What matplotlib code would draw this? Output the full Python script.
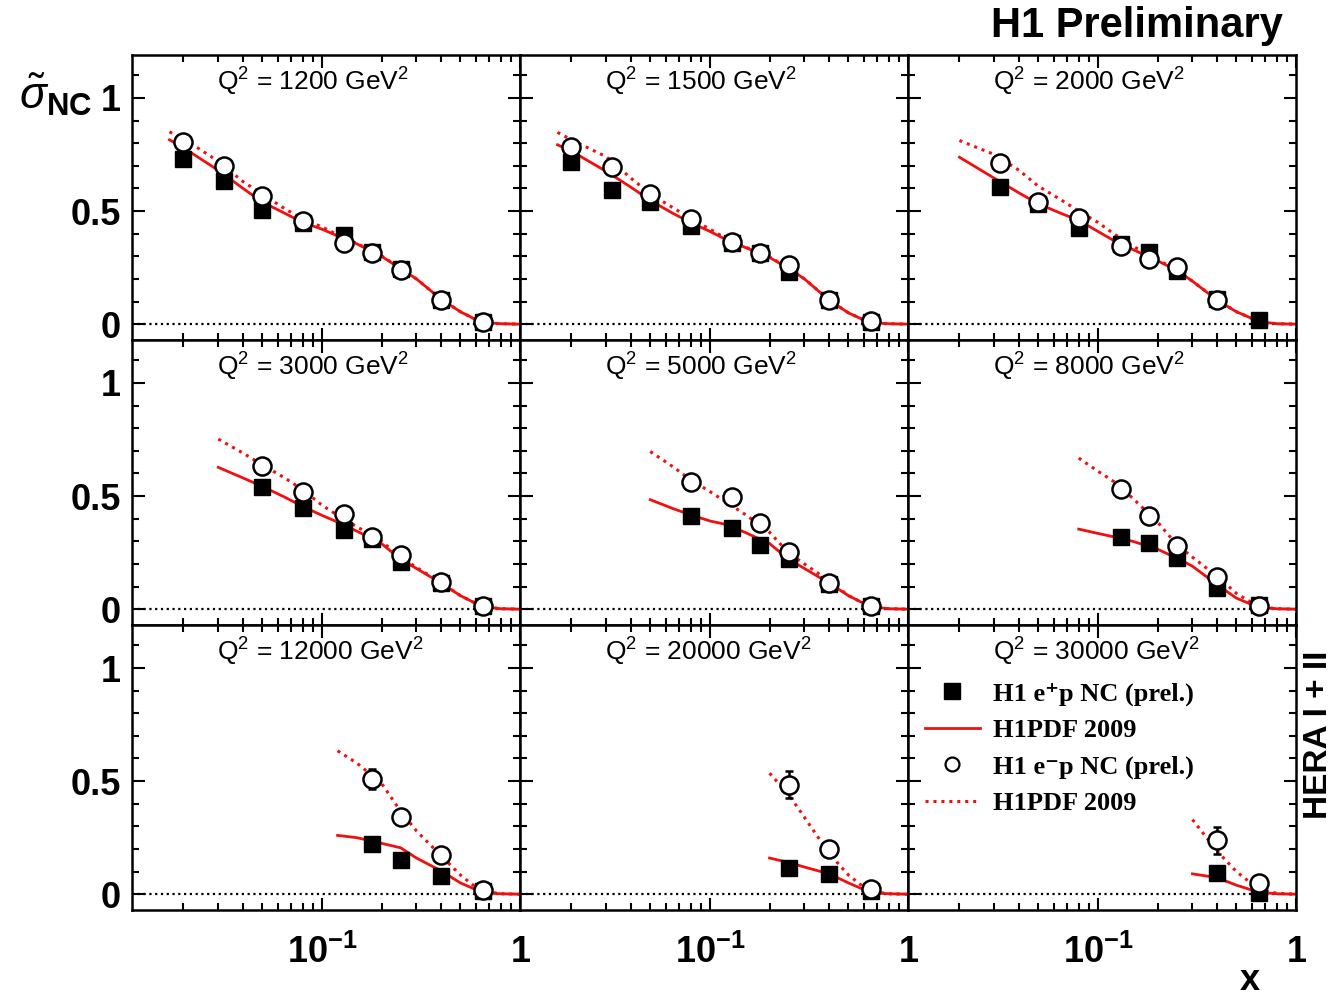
import numpy as np
from matplotlib import pyplot as plt
from matplotlib.lines import Line2D
import matplotlib.ticker as mticker

plt.rcParams['font.family'] = ['Liberation Sans', 'DejaVu Sans']
plt.rcParams['mathtext.fontset'] = 'custom'
plt.rcParams['mathtext.rm'] = 'Liberation Sans'
plt.rcParams['mathtext.it'] = 'Liberation Sans:italic'
plt.rcParams['mathtext.bf'] = 'Liberation Sans:bold'

nan = np.nan

# Q2 bins (GeV^2), one per panel
q2_values = [1200, 1500, 2000, 3000, 5000, 8000, 12000, 20000, 30000]

# measured x bins
x_data = [0.02, 0.032, 0.05, 0.08, 0.13, 0.18, 0.25, 0.40, 0.65]

# reduced NC cross section, e+p (squares)
sig_pos = [
    [0.731, 0.635, 0.506, 0.447, 0.396, 0.318, 0.242, 0.108, 0.008],
    [0.716, 0.594, 0.540, 0.432, 0.360, 0.313, 0.231, 0.106, 0.010],
    [nan, 0.606, 0.530, 0.425, 0.356, 0.319, 0.235, 0.110, 0.018],
    [nan, nan, 0.540, 0.447, 0.351, 0.310, 0.210, 0.116, 0.012],
    [nan, nan, nan, 0.410, 0.358, 0.285, 0.223, 0.110, 0.012],
    [nan, nan, nan, nan, 0.319, 0.292, 0.226, 0.093, 0.020],
    [nan, nan, nan, nan, nan, 0.220, 0.151, 0.081, 0.015],
    [nan, nan, nan, nan, nan, nan, 0.117, 0.088, 0.015],
    [nan, nan, nan, nan, nan, nan, nan, 0.092, 0.004],
]

# reduced NC cross section, e-p (open circles)
sig_neg = [
    [0.804, 0.700, 0.566, 0.454, 0.359, 0.316, 0.238, 0.106, 0.010],
    [0.785, 0.694, 0.576, 0.466, 0.363, 0.316, 0.260, 0.106, 0.015],
    [nan, 0.712, 0.540, 0.470, 0.344, 0.290, 0.253, 0.106, nan],
    [nan, nan, 0.635, 0.516, 0.422, 0.321, 0.240, 0.120, 0.016],
    [nan, nan, nan, 0.562, 0.498, 0.380, 0.255, 0.115, 0.016],
    [nan, nan, nan, nan, 0.531, 0.410, 0.281, 0.142, 0.016],
    [nan, nan, nan, nan, nan, 0.509, 0.342, 0.172, 0.019],
    [nan, nan, nan, nan, nan, nan, 0.484, 0.201, 0.022],
    [nan, nan, nan, nan, nan, nan, nan, 0.238, 0.051],
]

# e-p errors (only the large ones stick out of the markers)
err_neg = [
    [0.01] * 9,
    [0.01] * 9,
    [0.01] * 9,
    [0.01] * 9,
    [0.01] * 9,
    [0.015] * 9,
    [nan, nan, nan, nan, nan, 0.045, 0.02, 0.015, 0.01],
    [nan, nan, nan, nan, nan, nan, 0.06, 0.02, 0.01],
    [nan, nan, nan, nan, nan, nan, nan, 0.06, 0.01],
]

# H1PDF 2009 prediction, evaluated on a common x grid
x_fit = [0.017, 0.02, 0.03, 0.04, 0.05, 0.065, 0.08, 0.1, 0.12, 0.15,
         0.2, 0.25, 0.3, 0.4, 0.5, 0.6, 0.7, 0.8, 1.0]

fit_pos = [
    [0.815, 0.78, 0.68, 0.60, 0.54, 0.49, 0.45, 0.42, 0.39, 0.355,
     0.30, 0.245, 0.20, 0.11, 0.055, 0.02, 0.006, 0.002, 0.0],
    [0.793, 0.765, 0.675, 0.605, 0.547, 0.49, 0.449, 0.41, 0.375, 0.34,
     0.295, 0.246, 0.20, 0.106, 0.05, 0.018, 0.005, 0.002, 0.0],
    [nan, 0.738, 0.645, 0.58, 0.532, 0.49, 0.459, 0.41, 0.37, 0.33,
     0.28, 0.238, 0.19, 0.106, 0.055, 0.025, 0.008, 0.002, 0.0],
    [nan, nan, 0.627, 0.58, 0.543, 0.495, 0.454, 0.415, 0.385, 0.345,
     0.29, 0.22, 0.18, 0.115, 0.06, 0.025, 0.008, 0.002, 0.0],
    [nan, nan, nan, nan, 0.484, 0.445, 0.417, 0.39, 0.375, 0.34,
     0.29, 0.22, 0.18, 0.115, 0.06, 0.025, 0.008, 0.002, 0.0],
    [nan, nan, nan, nan, nan, nan, 0.354, 0.335, 0.32, 0.30,
     0.265, 0.226, 0.19, 0.108, 0.049, 0.02, 0.006, 0.002, 0.0],
    [nan, nan, nan, nan, nan, nan, nan, nan, 0.26, 0.25,
     0.225, 0.205, 0.16, 0.103, 0.05, 0.02, 0.005, 0.002, 0.0],
    [nan, nan, nan, nan, nan, nan, nan, nan, nan, nan,
     0.16, 0.14, 0.12, 0.09, 0.05, 0.02, 0.006, 0.002, 0.0],
    [nan, nan, nan, nan, nan, nan, nan, nan, nan, nan,
     nan, nan, 0.09, 0.073, 0.04, 0.018, 0.006, 0.002, 0.0],
]

fit_neg = [
    [0.85, 0.82, 0.72, 0.63, 0.575, 0.51, 0.465, 0.43, 0.395, 0.357,
     0.302, 0.247, 0.20, 0.111, 0.055, 0.02, 0.006, 0.002, 0.0],
    [0.848, 0.815, 0.74, 0.645, 0.576, 0.515, 0.467, 0.42, 0.38, 0.342,
     0.297, 0.247, 0.20, 0.107, 0.05, 0.018, 0.005, 0.002, 0.0],
    [nan, 0.812, 0.75, 0.68, 0.61, 0.55, 0.50, 0.45, 0.40, 0.345,
     0.285, 0.24, 0.19, 0.107, 0.055, 0.025, 0.008, 0.002, 0.0],
    [nan, nan, 0.752, 0.69, 0.638, 0.58, 0.528, 0.46, 0.415, 0.365,
     0.30, 0.23, 0.185, 0.117, 0.06, 0.025, 0.008, 0.002, 0.0],
    [nan, nan, nan, nan, 0.697, 0.63, 0.572, 0.52, 0.475, 0.42,
     0.34, 0.248, 0.20, 0.125, 0.06, 0.025, 0.008, 0.002, 0.0],
    [nan, nan, nan, nan, nan, nan, 0.668, 0.61, 0.565, 0.49,
     0.385, 0.285, 0.23, 0.145, 0.07, 0.028, 0.008, 0.002, 0.0],
    [nan, nan, nan, nan, nan, nan, nan, nan, 0.634, 0.58,
     0.49, 0.366, 0.28, 0.17, 0.085, 0.03, 0.01, 0.002, 0.0],
    [nan, nan, nan, nan, nan, nan, nan, nan, nan, nan,
     0.535, 0.44, 0.34, 0.18, 0.085, 0.03, 0.008, 0.002, 0.0],
    [nan, nan, nan, nan, nan, nan, nan, nan, nan, nan,
     nan, nan, 0.33, 0.19, 0.10, 0.045, 0.015, 0.004, 0.0],
]

red = '#f01010'
dotted = (0, (1, 1.6))

fig = plt.figure(figsize=(13.32, 9.96), dpi=100)
axes = fig.subplots(3, 3, sharex=True, sharey=True)
fig.subplots_adjust(left=0.0991, right=0.973, top=0.9448, bottom=0.0863,
                    wspace=0, hspace=0)

for i, ax in enumerate(axes.flat):
    ax.set_xscale('log')
    ax.axhline(0, color='black', linestyle=dotted, linewidth=1.6, zorder=1)
    ax.plot(x_fit, fit_pos[i], color=red, linewidth=2.0, zorder=2)
    ax.plot(x_fit, fit_neg[i], color=red, linewidth=2.2, linestyle=dotted, zorder=2)
    ax.errorbar(x_data, sig_pos[i], yerr=0.008, fmt='s', ms=12, color='black',
                mec='black', mfc='black', elinewidth=1.5, capsize=0, zorder=3)
    ax.errorbar(x_data, sig_neg[i], yerr=err_neg[i], fmt='o', ms=13, color='black',
                mec='black', mfc='white', mew=1.8, elinewidth=1.8, capsize=3,
                capthick=1.8, zorder=4)
    ax.text(0.22, 0.905, f'Q$^{{2}}$ = {q2_values[i]} GeV$^{{2}}$',
            transform=ax.transAxes, ha='left', va='center', fontsize=19)

    ax.set_xlim(0.011, 1.0)
    ax.set_ylim(-0.07, 1.19)
    for s in ax.spines.values():
        s.set_linewidth(1.8)
    ax.tick_params(which='both', direction='in', top=True, right=True, width=1.5)
    ax.tick_params(which='major', length=9)
    ax.tick_params(which='minor', length=5)
    ax.tick_params(axis='y', which='major', pad=8, labelsize=26)
    ax.tick_params(axis='x', which='major', pad=18, labelsize=26)

ax0 = axes[0, 0]
ax0.xaxis.set_major_locator(mticker.FixedLocator([0.1, 1.0]))
ax0.xaxis.set_major_formatter(mticker.FixedFormatter([r'$\mathbf{10^{-1}}$', r'$\mathbf{1}$']))
ax0.xaxis.set_minor_locator(mticker.FixedLocator(
    [0.02, 0.03, 0.04, 0.05, 0.06, 0.07, 0.08, 0.09,
     0.2, 0.3, 0.4, 0.5, 0.6, 0.7, 0.8, 0.9]))
ax0.xaxis.set_minor_formatter(mticker.NullFormatter())
ax0.yaxis.set_major_locator(mticker.FixedLocator([0, 0.5, 1.0]))
ax0.yaxis.set_major_formatter(mticker.FixedFormatter(['0', '0.5', '1']))
ax0.yaxis.set_minor_locator(mticker.MultipleLocator(0.1))

for ax in axes.flat:
    for lab in ax.get_xticklabels() + ax.get_yticklabels():
        lab.set_fontweight('bold')

# legend in the last panel
handles = [
    Line2D([], [], marker='s', ls='none', color='black', ms=12),
    Line2D([], [], color=red, lw=2.0),
    Line2D([], [], marker='o', ls='none', mfc='white', mec='black', mew=1.6, ms=10),
    Line2D([], [], color=red, lw=2.2, ls=dotted),
]
labels = ['H1 e\u207ap NC (prel.)', 'H1PDF 2009', 'H1 e\u207bp NC (prel.)', 'H1PDF 2009']
axes[2, 2].legend(handles, labels, loc='upper left', bbox_to_anchor=(-0.018, 0.883),
                  frameon=False, handlelength=2.1, handletextpad=0.5, labelspacing=0.48,
                  prop={'family': ['Liberation Serif', 'DejaVu Serif'],
                        'weight': 'bold', 'size': 19})

fig.text(0.963, 0.974, 'H1 Preliminary', ha='right', va='center',
         fontsize=30, fontweight='bold')
fig.text(0.99, 0.262, 'HERA I + II', ha='center', va='center', rotation=90,
         fontsize=24, fontweight='bold')
fig.text(0.938, 0.016, 'x', ha='center', va='center', fontsize=26, fontweight='bold')
fig.text(0.014, 0.905, r'$\tilde{\sigma}_{\mathbf{NC}}$', ha='left', va='center',
         fontsize=32)

plt.savefig('out.png', dpi=100)
